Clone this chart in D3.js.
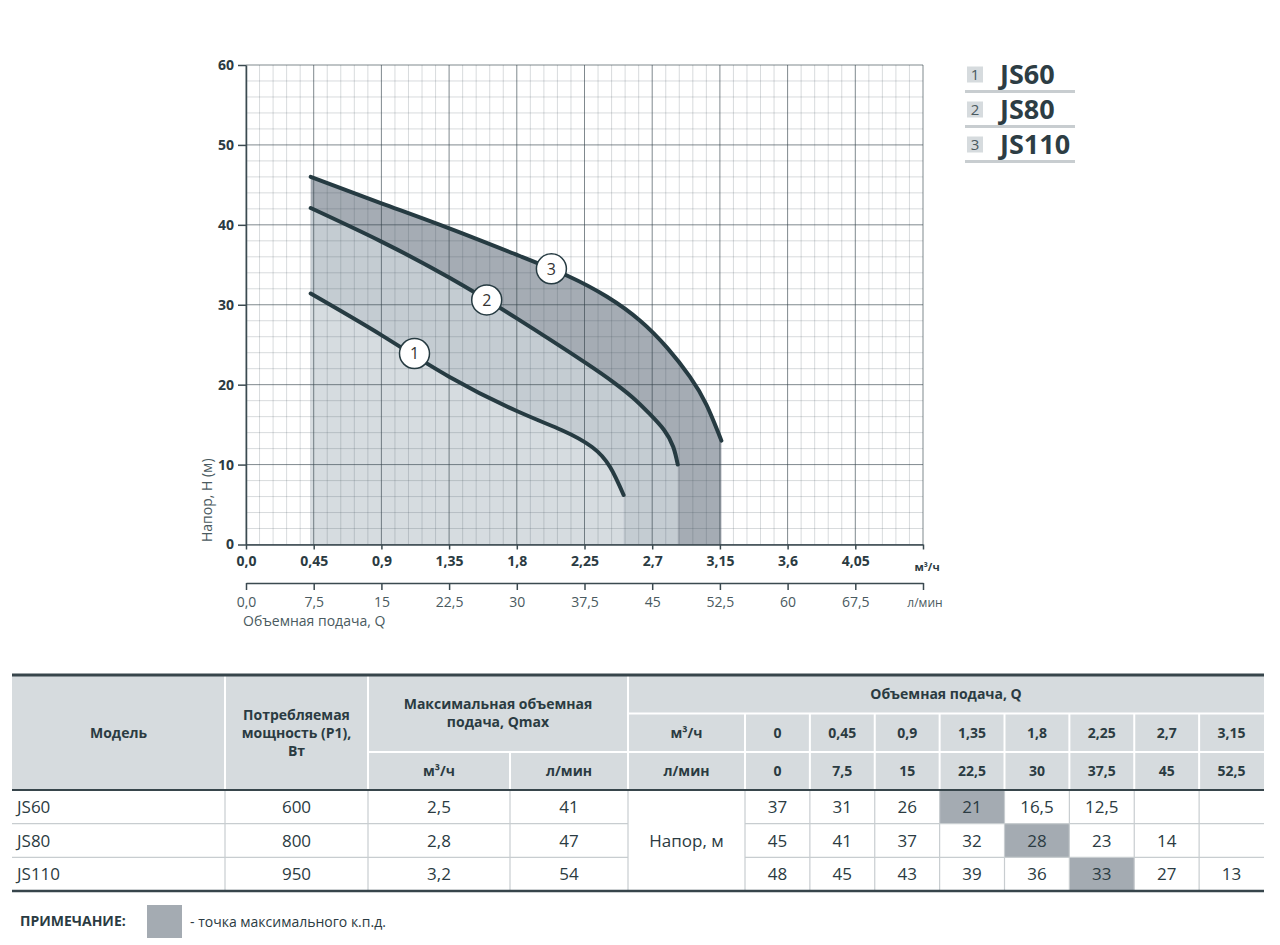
<!DOCTYPE html>
<html>
<head>
<meta charset="utf-8">
<script src="https://cdn.jsdelivr.net/npm/d3@7"></script>
<style>
  body { margin: 0; background: #fff; }
  svg { display: block; font-family: 'Open Sans', sans-serif; }
</style>
</head>
<body>
<script>
// table data
var models = ['JS60', 'JS80', 'JS110'];
var powerW = ['600', '800', '950'];
var qmaxM3 = ['2,5', '2,8', '3,2'];
var qmaxL = ['41', '47', '54'];
var flowM3 = ['0', '0,45', '0,9', '1,35', '1,8', '2,25', '2,7', '3,15'];
var flowL = ['0', '7,5', '15', '22,5', '30', '37,5', '45', '52,5'];
var headJS60 = ['37', '31', '26', '21', '16,5', '12,5', '', ''];
var headJS80 = ['45', '41', '37', '32', '28', '23', '14', ''];
var headJS110 = ['48', '45', '43', '39', '36', '33', '27', '13'];
var bestPoint = [3, 4, 5];

// curves: [Q m3/h, H m]
var curveJS60 = [[0.43, 31.4], [0.9, 26.2], [1.35, 21.0], [1.8, 16.7], [2.1, 14.3], [2.3, 12.2], [2.42, 9.7], [2.51, 6.2]];
var curveJS80 = [[0.43, 42.1], [0.9, 37.9], [1.35, 33.4], [1.8, 28.3], [2.26, 22.7], [2.45, 20.2], [2.57, 18.4], [2.68, 16.4], [2.78, 14.3], [2.84, 12.2], [2.87, 10.0]];
var curveJS110 = [[0.43, 46.0], [0.9, 42.7], [1.36, 39.5], [1.82, 36.1], [2.14, 33.6], [2.4, 31.0], [2.62, 28.0], [2.8, 24.6], [2.95, 21.0], [3.06, 17.5], [3.16, 13.0]];
var curveLabels = [[1.12, 23.9], [1.6, 30.6], [2.03, 34.5]];

// axis ticks
var xTickLabels = ['0,0', '0,45', '0,9', '1,35', '1,8', '2,25', '2,7', '3,15', '3,6', '4,05'];
var xTickLabelsL = ['0,0', '7,5', '15', '22,5', '30', '37,5', '45', '52,5', '60', '67,5'];
var yTicks = [0, 10, 20, 30, 40, 50, 60];

var chart = function() {
  var svg;
  var x, xl, y;
  var ink = '#2b3b42';
  var grey = '#4a5a60';

  var createSvg = function() {
    svg = d3.select('body').append('svg')
      .attr('width', 1280)
      .attr('height', 945);
    x = d3.scaleLinear().domain([0, 4.5]).range([246, 923]);
    xl = d3.scaleLinear().domain([0, 75]).range([246, 923]);
    y = d3.scaleLinear().domain([0, 60]).range([544.5, 65]);
  };

  var smooth = d3.curveNatural;

  var drawFills = function() {
    var area = d3.area()
      .x(function(d) { return x(d[0]); })
      .y0(y(0))
      .y1(function(d) { return y(d[1]); })
      .curve(smooth);
    var fills = [[curveJS110, '#a5acb4'], [curveJS80, '#c4ccd2'], [curveJS60, '#d6dce0']];
    fills.forEach(function(f) {
      svg.append('path').attr('d', area(f[0])).style('fill', f[1]);
    });
  };

  var drawGrid = function() {
    var g = svg.append('g');
    for(var i = 0; i <= 50; i++) {
      g.append('line')
        .attr('x1', x(i * 0.09)).attr('x2', x(i * 0.09))
        .attr('y1', y(0)).attr('y2', y(60))
        .style('stroke', i % 5 === 0 ? 'rgba(50,65,72,0.62)' : 'rgba(60,75,85,0.2)')
        .style('stroke-width', 1);
    }
    for(var j = 0; j <= 30; j++) {
      g.append('line')
        .attr('x1', x(0)).attr('x2', x(4.5))
        .attr('y1', y(j * 2)).attr('y2', y(j * 2))
        .style('stroke', j % 5 === 0 ? 'rgba(50,65,72,0.62)' : 'rgba(60,75,85,0.2)')
        .style('stroke-width', 1);
    }
  };

  var drawCurves = function() {
    var line = d3.line()
      .x(function(d) { return x(d[0]); })
      .y(function(d) { return y(d[1]); })
      .curve(smooth);
    [curveJS60, curveJS80, curveJS110].forEach(function(c) {
      svg.append('path').attr('d', line(c))
        .style('fill', 'none')
        .style('stroke', '#263b42')
        .style('stroke-width', 4)
        .style('stroke-linecap', 'round');
    });
    curveLabels.forEach(function(p, i) {
      svg.append('circle')
        .attr('cx', x(p[0])).attr('cy', y(p[1])).attr('r', 15)
        .style('fill', '#fff').style('stroke', '#263b42').style('stroke-width', 1.5);
      svg.append('text')
        .attr('x', x(p[0])).attr('y', y(p[1])).attr('dy', '0.36em')
        .attr('text-anchor', 'middle')
        .style('font-size', '16px').style('fill', '#333')
        .text(i + 1);
    });
  };

  var styleAxis = function(g, bold) {
    g.selectAll('path, line').style('stroke', '#3b4a50').style('stroke-width', 1.5);
    g.selectAll('text')
      .style('font-family', "'Open Sans', sans-serif")
      .style('font-size', '14px')
      .style('font-weight', bold ? 700 : 400)
      .style('fill', bold ? ink : grey);
  };

  var drawAxes = function() {
    var xv = d3.range(0, 11).map(function(i) { return i * 0.45; });
    var xlv = d3.range(0, 11).map(function(i) { return i * 7.5; });

    var ax = svg.append('g').attr('transform', 'translate(0,' + y(0) + ')')
      .call(d3.axisBottom(x).tickValues(xv).tickSize(5).tickPadding(7).tickSizeOuter(0)
        .tickFormat(function(d, i) { return xTickLabels[i] || ''; }));
    styleAxis(ax, true);

    var axl = svg.append('g').attr('transform', 'translate(0,583)')
      .call(d3.axisBottom(xl).tickValues(xlv).tickSize(7).tickPadding(7).tickSizeOuter(0)
        .tickFormat(function(d, i) { return xTickLabelsL[i] || ''; }));
    styleAxis(axl, false);

    var ay = svg.append('g').attr('transform', 'translate(' + x(0) + ',0)')
      .call(d3.axisLeft(y).tickValues(yTicks).tickSize(8).tickPadding(4).tickSizeOuter(0));
    styleAxis(ay, true);

    svg.append('text').attr('x', 927).attr('y', 571).attr('text-anchor', 'middle')
      .style('font-size', '11px').style('font-weight', 700).style('fill', ink).text('м³/ч');
    svg.append('text').attr('x', 925).attr('y', 607).attr('text-anchor', 'middle')
      .style('font-size', '12px').style('fill', grey).text('л/мин');
    svg.append('text').attr('x', 243).attr('y', 626)
      .style('font-size', '14px').style('fill', grey).text('Объемная подача, Q');
    svg.append('text').attr('transform', 'translate(207,542) rotate(-90)').attr('dy', '0.35em')
      .style('font-size', '14px').style('fill', grey).text('Напор, Н (м)');
  };

  var drawLegend = function() {
    var ly = d3.scaleBand().domain(models).range([57, 162]);
    models.forEach(function(m, i) {
      var cy = ly(m) + ly.bandwidth() / 2;
      svg.append('rect').attr('x', 967).attr('y', cy - 8).attr('width', 16).attr('height', 16)
        .style('fill', '#d6dbde');
      svg.append('text').attr('x', 975).attr('y', cy).attr('dy', '0.36em').attr('text-anchor', 'middle')
        .style('font-size', '15px').style('fill', grey).text(i + 1);
      svg.append('text').attr('x', 1000).attr('y', cy).attr('dy', '0.36em')
        .style('font-size', '27px').style('font-weight', 700).style('fill', '#2d3d44').text(m);
      svg.append('line').attr('x1', 965).attr('x2', 1075).attr('y1', cy + 17).attr('y2', cy + 17)
        .style('stroke', '#c8cdd0').style('stroke-width', 3);
    });
  };

  var drawTable = function() {
    var left = 12, right = 1264;
    var c1 = 225, c2 = 368, c3 = 510, c4 = 628, c5 = 745;
    var h0 = 675, h1 = 713.5, h2 = 752, h3 = 790, bottom = 891;
    var fx = d3.scaleBand().domain(d3.range(0, 8)).range([c5, right]);
    var ry = d3.scaleBand().domain(models).range([h3, bottom]);
    var heads = [headJS60, headJS80, headJS110];

    var txt = function(tx, ty, s, opt) {
      opt = opt || {};
      svg.append('text').attr('x', tx).attr('y', ty).attr('dy', '0.36em')
        .attr('text-anchor', opt.anchor || 'middle')
        .style('font-size', (opt.size || 14) + 'px')
        .style('font-weight', opt.bold === false ? 400 : 700)
        .style('fill', ink).text(s);
    };
    var ln = function(x1, y1, x2, y2, color, w) {
      svg.append('line').attr('x1', x1).attr('y1', y1).attr('x2', x2).attr('y2', y2)
        .style('stroke', color).style('stroke-width', w);
    };

    // header
    svg.append('rect').attr('x', left).attr('y', h0).attr('width', right - left).attr('height', h3 - h0)
      .style('fill', '#d6dbde');
    [c1, c2, c4].forEach(function(cx) { ln(cx, h0, cx, h3, '#fff', 2); });
    ln(c3, h2, c3, h3, '#fff', 2);
    ln(c2, h2, c4, h2, '#fff', 2);
    ln(c4, h1, right, h1, '#fff', 2);
    ln(c4, h2, right, h2, '#fff', 2);
    d3.range(0, 8).forEach(function(i) { ln(fx(i), h1, fx(i), h3, '#fff', 2); });

    txt((left + c1) / 2, (h0 + h3) / 2, 'Модель');
    txt((c1 + c2) / 2, 715, 'Потребляемая');
    txt((c1 + c2) / 2, 733, 'мощность (P1),');
    txt((c1 + c2) / 2, 751, 'Вт');
    txt((c2 + c4) / 2, 704, 'Максимальная объемная');
    txt((c2 + c4) / 2, 722, 'подача, Qmax');
    txt((c2 + c3) / 2, (h2 + h3) / 2, 'м³/ч');
    txt((c3 + c4) / 2, (h2 + h3) / 2, 'л/мин');
    txt((c4 + right) / 2, (h0 + h1) / 2, 'Объемная подача, Q');
    txt((c4 + c5) / 2, (h1 + h2) / 2, 'м³/ч');
    txt((c4 + c5) / 2, (h2 + h3) / 2, 'л/мин');
    flowM3.forEach(function(f, i) { txt(fx(i) + fx.bandwidth() / 2, (h1 + h2) / 2, f); });
    flowL.forEach(function(f, i) { txt(fx(i) + fx.bandwidth() / 2, (h2 + h3) / 2, f); });

    // body
    models.forEach(function(m, r) {
      svg.append('rect').attr('x', fx(bestPoint[r])).attr('y', ry(m))
        .attr('width', fx.bandwidth()).attr('height', ry.bandwidth())
        .style('fill', '#a4abb2');
    });
    [c1, c2, c3, c4, c5].concat(d3.range(1, 8).map(function(i) { return fx(i); })).forEach(function(cx) {
      ln(cx, h3, cx, bottom, '#c8cdd0', 1.2);
    });
    models.slice(1).forEach(function(m) {
      ln(left, ry(m), c4, ry(m), '#c8cdd0', 1.2);
      ln(c5, ry(m), right, ry(m), '#c8cdd0', 1.2);
    });
    models.forEach(function(m, r) {
      var cy = ry(m) + ry.bandwidth() / 2;
      txt(17, cy, m, { anchor: 'start', size: 17, bold: false });
      txt((c1 + c2) / 2, cy, powerW[r], { size: 17, bold: false });
      txt((c2 + c3) / 2, cy, qmaxM3[r], { size: 17, bold: false });
      txt((c3 + c4) / 2, cy, qmaxL[r], { size: 17, bold: false });
      heads[r].forEach(function(v, i) {
        txt(fx(i) + fx.bandwidth() / 2, cy, v, { size: 17, bold: false });
      });
    });
    txt((c4 + c5) / 2, (h3 + bottom) / 2, 'Напор, м', { size: 17, bold: false });

    ln(left, h0, right, h0, '#37454b', 3);
    ln(left, h3, right, h3, '#37454b', 2);
    ln(left, bottom, right, bottom, '#37454b', 2.5);

    // note
    txt(20, 921, 'ПРИМЕЧАНИЕ:', { anchor: 'start', size: 14 });
    svg.append('rect').attr('x', 147).attr('y', 905).attr('width', 35).attr('height', 33)
      .style('fill', '#a4abb2');
    txt(190, 922, '- точка максимального к.п.д.', { anchor: 'start', size: 14, bold: false });
  };

  var draw = function() {
    createSvg();
    drawFills();
    drawGrid();
    drawCurves();
    drawAxes();
    drawLegend();
    drawTable();
  };

  return { draw: draw };
}();

chart.draw();
</script>
</body>
</html>
